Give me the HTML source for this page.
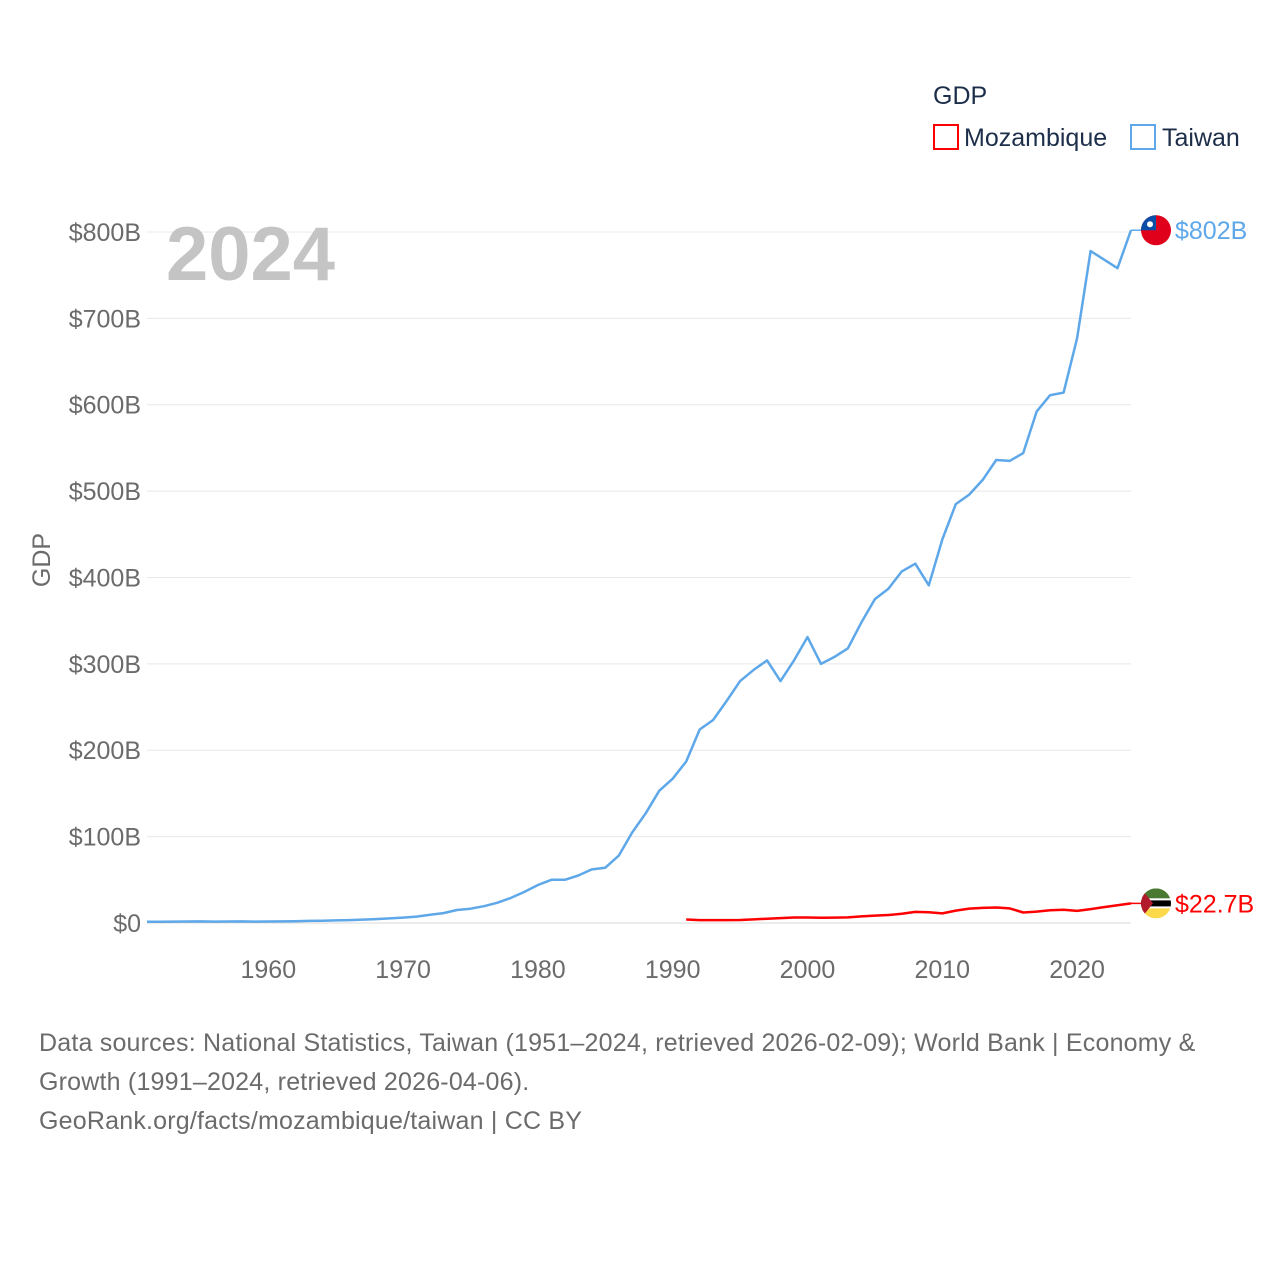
<!DOCTYPE html>
<html><head><meta charset="utf-8"><style>
html,body{margin:0;padding:0;background:#fff;}
body{width:1280px;height:1280px;position:relative;font-family:"Liberation Sans",sans-serif;}
.foot{position:absolute;left:39px;top:1024px;font-size:25px;line-height:39px;color:#6b6b6b;letter-spacing:0.2px;}
</style></head><body>
<svg id="chart" width="1280" height="1010" style="position:absolute;left:0;top:0" font-family="Liberation Sans, sans-serif"></svg>
<div class="foot">Data sources: National Statistics, Taiwan (1951–2024, retrieved 2026-02-09); World Bank | Economy &amp;<br>Growth (1991–2024, retrieved 2026-04-06).<br>GeoRank.org/facts/mozambique/taiwan | CC BY</div>
<script>
const yTicks=[0,100,200,300,400,500,600,700,800];
const yTickLabels=["$0","$100B","$200B","$300B","$400B","$500B","$600B","$700B","$800B"];
const xTicks=[1960,1970,1980,1990,2000,2010,2020];
const taiwanStart=1951;
const taiwanValues=[1.5,1.5,1.6,1.7,1.8,1.6,1.7,1.8,1.6,1.7,1.9,2.1,2.4,2.7,3.0,3.4,3.9,4.5,5.3,6.2,7.4,9.5,11.5,15.0,16.5,19.5,23.5,29,36,44,50,50,55,62,64,78,105,127,153,167,187,224,235,257,280,293,304,280,304,331,300,308,318,348,375,387,407,416,391,444,485,496,513,536,535,544,592,611,614,677,778,768,758,802];
const mozStart=1991;
const mozValues=[4.0,3.3,3.3,3.4,3.5,4.2,5.0,5.7,6.4,6.4,6.1,6.3,6.5,7.6,8.6,9.3,10.6,12.8,12.4,11.1,14.4,16.7,17.5,18.0,16.9,12.1,13.2,14.8,15.4,14.0,16.1,18.4,20.6,22.7];
const NS='http://www.w3.org/2000/svg';
const svg=document.getElementById('chart');
const X0=147,X1=1131,Y0=923,PXV=0.8638;
function xs(yr){return X0+(yr-1951)*(X1-X0)/(2024-1951);}
function ys(v){return Y0-v*PXV;}
function el(tag,attrs,parent){const e=document.createElementNS(NS,tag);for(const k in attrs)e.setAttribute(k,attrs[k]);(parent||svg).appendChild(e);return e;}
yTicks.forEach((t,i)=>{
 const g=el('line',{x1:X0,x2:X1,y1:ys(t),y2:ys(t),stroke:t===0?'#d8d8d8':'#e8e8e8','stroke-width':1});
 
 
 const tx=el('text',{x:141,y:ys(t)+9,'text-anchor':'end','font-size':25,fill:'#6b6b6b'});
 tx.textContent=yTickLabels[i];
 
 
});
xTicks.forEach(t=>{
 const tx=el('text',{x:xs(t),y:978,'text-anchor':'middle','font-size':25,fill:'#6b6b6b'});
 tx.textContent=t;
 
 
});
const yt=el('text',{x:0,y:0,'font-size':25,fill:'#6b6b6b','text-anchor':'middle',transform:'translate(50,560) rotate(-90)'});
yt.textContent='GDP';


const yr=el('text',{x:166,y:280,'font-size':76,'font-weight':'bold',fill:'#c4c4c4'});
yr.textContent='2024';


function series(vals,start,color,name){
 const pts=vals.map((v,i)=>xs(start+i).toFixed(1)+','+ys(v).toFixed(1)).join(' ');
 const p=el('polyline',{points:pts,fill:'none',stroke:color,'stroke-width':2.5,'stroke-linejoin':'round'});
 
 
}
series(taiwanValues,taiwanStart,'#5ea8ea','taiwan-line');
series(mozValues,mozStart,'#ff0000','mozambique-line');
const tv=taiwanValues[taiwanValues.length-1], mv=mozValues[mozValues.length-1];
el('line',{x1:X1,x2:1142,y1:ys(tv),y2:ys(tv),stroke:'#5ea8ea','stroke-width':1.5});
el('line',{x1:X1,x2:1142,y1:ys(mv),y2:ys(mv),stroke:'#ff0000','stroke-width':1.5});
const ft=el('g',{});


el('circle',{cx:1156,cy:ys(tv),r:15,fill:'#e0001b'},ft);
el('path',{d:`M1141,${ys(tv)} A15,15 0 0 1 1156,${ys(tv)-15} L1156,${ys(tv)} Z`,fill:'#0a4ea8'},ft);
el('circle',{cx:1150,cy:ys(tv)-6,r:3,fill:'#fff'},ft);
const fm=el('g',{});


const mc=ys(mv);
el('clipPath',{id:'mc'},fm);
el('circle',{cx:1156,cy:mc,r:15},document.getElementById('mc'));
const mg=el('g',{'clip-path':'url(#mc)'},fm);
el('rect',{x:1141,y:mc-15,width:30,height:10,fill:'#4a7a32'},mg);
el('rect',{x:1141,y:mc-5,width:30,height:10,fill:'#fff'},mg);
el('rect',{x:1141,y:mc-3,width:30,height:6,fill:'#000'},mg);
el('rect',{x:1141,y:mc+5,width:30,height:10,fill:'#fcd94a'},mg);
el('path',{d:`M1141,${mc-15} L1153,${mc} L1141,${mc+15} Z`,fill:'#b01a2a'},mg);
const lt=el('text',{x:1175,y:ys(tv)+9,'font-size':25,fill:'#5ea8ea'});
lt.textContent='$802B';


const lm=el('text',{x:1175,y:mc+9,'font-size':25,fill:'#ff0000'});
lm.textContent='$22.7B';


const lg=el('g',{});


const lt2=el('text',{x:933,y:104,'font-size':25,fill:'#1c2e4a'},lg);lt2.textContent='GDP';
const e1=el('g',{},lg);


el('rect',{x:934,y:125,width:24,height:24,fill:'none',stroke:'#ff0000','stroke-width':2},e1);
const t1=el('text',{x:964,y:146,'font-size':25,fill:'#1c2e4a'},e1);t1.textContent='Mozambique';
const e2=el('g',{},lg);


el('rect',{x:1131,y:125,width:24,height:24,fill:'none',stroke:'#5ea8ea','stroke-width':2},e2);
const t2=el('text',{x:1162,y:146,'font-size':25,fill:'#1c2e4a'},e2);t2.textContent='Taiwan';
</script>
</body></html>
